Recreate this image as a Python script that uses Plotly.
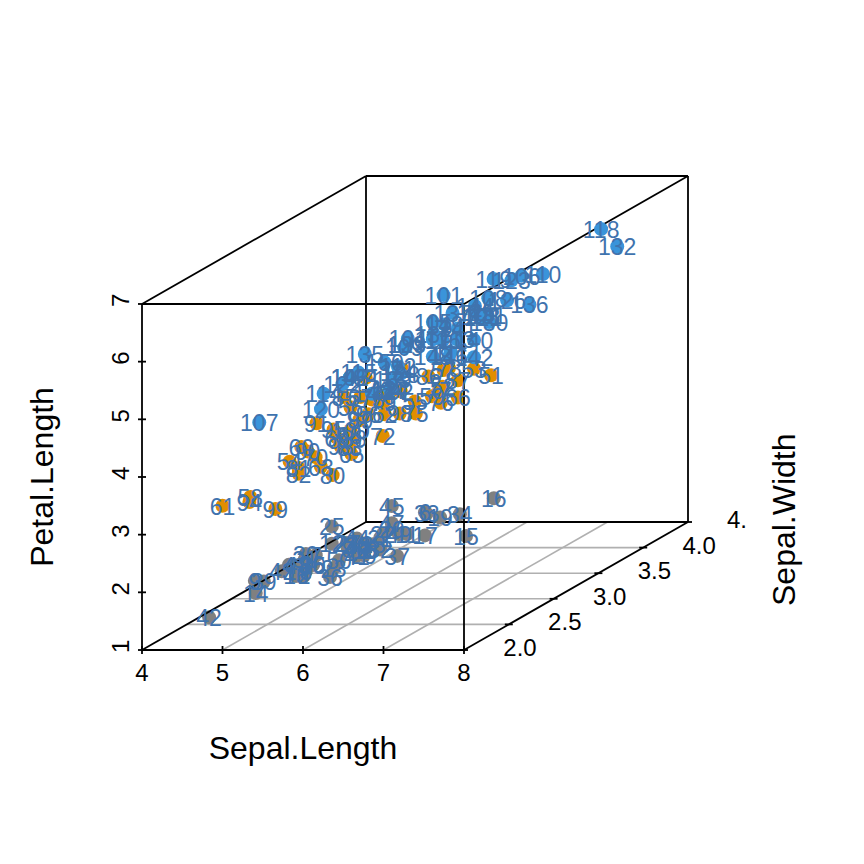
import plotly.graph_objects as go

# iris, row order as in the labels
sepal_length = [
    5.1,4.9,4.7,4.6,5.0,5.4,4.6,5.0,4.4,4.9,5.4,4.8,4.8,4.3,5.8,5.7,5.4,5.1,5.7,5.1,5.4,5.1,4.6,5.1,4.8,
    5.0,5.0,5.2,5.2,4.7,4.8,5.4,5.2,5.5,4.9,5.0,5.5,4.9,4.4,5.1,5.0,4.5,4.4,5.0,5.1,4.8,5.1,4.6,5.3,5.0,
    7.0,6.4,6.9,5.5,6.5,5.7,6.3,4.9,6.6,5.2,5.0,5.9,6.0,6.1,5.6,6.7,5.6,5.8,6.2,5.6,5.9,6.1,6.3,6.1,6.4,
    6.6,6.8,6.7,6.0,5.7,5.5,5.5,5.8,6.0,5.4,6.0,6.7,6.3,5.6,5.5,5.5,6.1,5.8,5.0,5.6,5.7,5.7,6.2,5.1,5.7,
    6.3,5.8,7.1,6.3,6.5,7.6,4.9,7.3,6.7,7.2,6.5,6.4,6.8,5.7,5.8,6.4,6.5,7.7,7.7,6.0,6.9,5.6,7.7,6.3,6.7,
    7.2,6.2,6.1,6.4,7.2,7.4,7.9,6.4,6.3,6.1,7.7,6.3,6.4,6.0,6.9,6.7,6.9,5.8,6.8,6.7,6.7,6.3,6.5,6.2,5.9,
]
sepal_width = [
    3.5,3.0,3.2,3.1,3.6,3.9,3.4,3.4,2.9,3.1,3.7,3.4,3.0,3.0,4.0,4.4,3.9,3.5,3.8,3.8,3.4,3.7,3.6,3.3,3.4,
    3.0,3.4,3.5,3.4,3.2,3.1,3.4,4.1,4.2,3.1,3.2,3.5,3.6,3.0,3.4,3.5,2.3,3.2,3.5,3.8,3.0,3.8,3.2,3.7,3.3,
    3.2,3.2,3.1,2.3,2.8,2.8,3.3,2.4,2.9,2.7,2.0,3.0,2.2,2.9,2.9,3.1,3.0,2.7,2.2,2.5,3.2,2.8,2.5,2.8,2.9,
    3.0,2.8,3.0,2.9,2.6,2.4,2.4,2.7,2.7,3.0,3.4,3.1,2.3,3.0,2.5,2.6,3.0,2.6,2.3,2.7,3.0,2.9,2.9,2.5,2.8,
    3.3,2.7,3.0,2.9,3.0,3.0,2.5,2.9,2.5,3.6,3.2,2.7,3.0,2.5,2.8,3.2,3.0,3.8,2.6,2.2,3.2,2.8,2.8,2.7,3.3,
    3.2,2.8,3.0,2.8,3.0,2.8,3.8,2.8,2.8,2.6,3.0,3.4,3.1,3.0,3.1,3.1,3.1,2.7,3.2,3.3,3.0,2.5,3.0,3.4,3.0,
]
petal_length = [
    1.4,1.4,1.3,1.5,1.4,1.7,1.4,1.5,1.4,1.5,1.5,1.6,1.4,1.1,1.2,1.5,1.3,1.4,1.7,1.5,1.7,1.5,1.0,1.7,1.9,
    1.6,1.6,1.5,1.4,1.6,1.6,1.5,1.5,1.4,1.5,1.2,1.3,1.4,1.3,1.5,1.3,1.3,1.3,1.6,1.9,1.4,1.6,1.4,1.5,1.4,
    4.7,4.5,4.9,4.0,4.6,4.5,4.7,3.3,4.6,3.9,3.5,4.2,4.0,4.7,3.6,4.4,4.5,4.1,4.5,3.9,4.8,4.0,4.9,4.7,4.3,
    4.4,4.8,5.0,4.5,3.5,3.8,3.7,3.9,5.1,4.5,4.5,4.7,4.4,4.1,4.0,4.4,4.6,4.0,3.3,4.2,4.2,4.2,4.3,3.0,4.1,
    6.0,5.1,5.9,5.6,5.8,6.6,4.5,6.3,5.8,6.1,5.1,5.3,5.5,5.0,5.1,5.3,5.5,6.7,6.9,5.0,5.7,4.9,6.7,4.9,5.7,
    6.0,4.8,4.9,5.6,5.8,6.1,6.4,5.6,5.1,5.6,6.1,5.6,5.5,4.8,5.4,5.6,5.1,5.1,5.9,5.7,5.2,5.0,5.2,5.4,5.1,
]
species_colors = ["#808080"] * 50 + ["#E08E00"] * 50 + ["#3A94DA"] * 50
row_labels = [str(i + 1) for i in range(150)]

x_ticks = [4, 5, 6, 7, 8]
z_ticks = [1, 2, 3, 4, 5, 6, 7]
y_ticks = [2.0, 2.5, 3.0, 3.5, 4.0, 4.5]
# last one is cut off by the figure edge in the original
y_tick_labels = ["2.0", "2.5", "3.0", "3.5", "4.0", "4."]

# oblique projection: depth (sepal width) shifts right and up
# page has an 8px body margin, so everything is placed 8px up and left of the window coords
SIZE = 848
X_PX, Z_PX = 80.5, 57.67
DX_PX, DZ_PX = 89.6, 51.2
LEFT, BOTTOM = 134, 642
LABEL_DROP = 3 / Z_PX  # plotly sets "middle" text a bit high


def px(x, y):
    return x + (y - 2) * DX_PX / X_PX


def pz(z, y):
    return z + (y - 2) * DZ_PX / Z_PX


def segments(pairs):
    xs, ys = [], []
    for (x0, y0, z0), (x1, y1, z1) in pairs:
        xs += [px(x0, y0), px(x1, y1), None]
        ys += [pz(z0, y0), pz(z1, y1), None]
    return xs, ys


def line_trace(pairs, color, width):
    xs, ys = segments(pairs)
    return go.Scatter(x=xs, y=ys, mode="lines", xaxis="x2", yaxis="y2", hoverinfo="skip",
                      line=dict(color=color, width=width))


grid = [((x, 2, 1), (x, 4.5, 1)) for x in x_ticks[1:-1]]
grid += [((4, y, 1), (8, y, 1)) for y in y_ticks[1:-1]]

box_back = [((4, 4.5, 1), (8, 4.5, 1)), ((4, 4.5, 1), (4, 4.5, 7)), ((8, 4.5, 1), (8, 4.5, 7)),
            ((4, 4.5, 7), (8, 4.5, 7)), ((4, 2, 7), (4, 4.5, 7)), ((8, 2, 7), (8, 4.5, 7))]
box_front = [((4, 2, 1), (8, 2, 1)), ((4, 2, 1), (4, 2, 7)), ((8, 2, 1), (8, 2, 7)), ((4, 2, 7), (8, 2, 7)),
             ((4, 2, 1), (4, 4.5, 1)), ((8, 2, 1), (8, 4.5, 1))]

# ticks cross the axis line on both sides
t_x, t_z = 4 / X_PX, 4 / Z_PX
tick_marks = []
for x in x_ticks:
    tick_marks.append(((x, 2, 1 - t_z), (x, 2, 1 + t_z)))
for z in z_ticks:
    tick_marks.append(((4 - t_x, 2, z), (4 + t_x, 2, z)))
for y in y_ticks:
    tick_marks.append(((8 - t_x, y, 1), (8 + t_x, y, 1)))

fig = go.Figure()
fig.add_trace(go.Scatter(x=[4, 8], y=[1, 7], mode="markers", marker=dict(opacity=0), hoverinfo="skip"))
fig.add_trace(line_trace(grid, "#B0B0B0", 1.6))
fig.add_trace(line_trace(box_back, "black", 1.8))
fig.add_trace(go.Scatter(x=[px(a, b) for a, b in zip(sepal_length, sepal_width)],
                         y=[pz(c, b) for c, b in zip(petal_length, sepal_width)],
                         mode="markers", xaxis="x2", yaxis="y2",
                         marker=dict(size=14, color=species_colors, line=dict(width=0))))
fig.add_trace(line_trace(box_front + tick_marks, "black", 1.8))
fig.add_trace(go.Scatter(x=[px(a, b) for a, b in zip(sepal_length, sepal_width)],
                         y=[pz(c, b) - LABEL_DROP for c, b in zip(petal_length, sepal_width)],
                         mode="text", text=row_labels, textposition="middle center", xaxis="x2", yaxis="y2",
                         textfont=dict(family="Liberation Sans", size=23, color="#3F73AE")))
# width tick labels sit off the oblique axis
fig.add_trace(go.Scatter(x=[px(8, y) + 56 / X_PX for y in y_ticks[:-1]] + [px(8, 4.5) + 49 / X_PX],
                         y=[pz(1, y) for y in y_ticks], mode="text", text=y_tick_labels,
                         textposition="middle center", xaxis="x2", yaxis="y2", cliponaxis=False,
                         textfont=dict(family="Liberation Sans", size=24, color="black")))

fig.update_layout(
    width=SIZE, height=SIZE, showlegend=False, paper_bgcolor="white", plot_bgcolor="rgba(0,0,0,0)",
    margin=dict(l=0, r=0, t=0, b=0),
    font=dict(family="Liberation Sans", color="black"),
    xaxis=dict(domain=[LEFT / SIZE, (LEFT + 4 * X_PX) / SIZE], range=[4, 8], tickvals=x_ticks, automargin=False,
               ticks="outside", ticklen=1, tickcolor="rgba(0,0,0,0)", showgrid=False, zeroline=False,
               tickfont=dict(size=24), title=dict(text="Sepal.Length", font=dict(size=32), standoff=51)),
    yaxis=dict(domain=[(SIZE - BOTTOM) / SIZE, (SIZE - BOTTOM + 6 * Z_PX) / SIZE], range=[1, 7], tickvals=z_ticks,
               automargin=False, ticks="outside", ticklen=2, tickcolor="rgba(0,0,0,0)", tickangle=-90,
               showgrid=False, zeroline=False,
               tickfont=dict(size=24), title=dict(text="Petal.Length", font=dict(size=32), standoff=44)),
    xaxis2=dict(anchor="y2", domain=[0, 1], range=[4 - LEFT / X_PX, 4 + (SIZE - LEFT) / X_PX], visible=False,
                automargin=False),
    yaxis2=dict(anchor="x2", domain=[0, 1], range=[1 - (SIZE - BOTTOM) / Z_PX, 1 + BOTTOM / Z_PX], visible=False,
                automargin=False),
    annotations=[dict(text="Sepal.Width", xref="paper", yref="paper", x=(784 - 8) / SIZE, y=1 - (520 - 8) / SIZE,
                      xanchor="center", yanchor="middle", textangle=-90, showarrow=False, font=dict(size=32))],
)

fig.write_html("out.html")
